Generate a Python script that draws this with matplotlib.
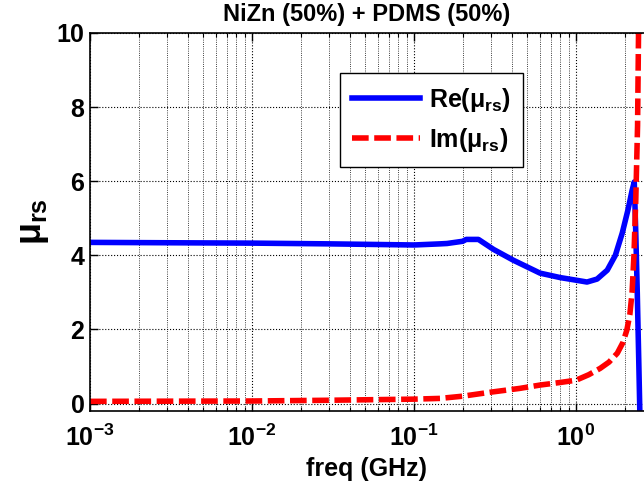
import matplotlib
matplotlib.use("Agg")
import matplotlib.pyplot as plt
from matplotlib.ticker import LogLocator, NullFormatter

# Data (freq in GHz)
freq_re = [1e-3, 3e-3, 1e-2, 3e-2, 0.1, 0.145, 0.16, 0.2, 0.21, 0.25, 0.31, 0.41, 0.6,
           0.8, 1.0, 1.17, 1.35, 1.56, 1.75, 1.93, 2.1, 2.22, 2.29, 2.34, 2.39, 2.44, 2.5]
re_vals = [4.35, 4.34, 4.33, 4.31, 4.28, 4.31, 4.32, 4.38, 4.43, 4.43, 4.16, 3.87, 3.52,
           3.40, 3.33, 3.28, 3.36, 3.60, 4.00, 4.60, 5.25, 5.75, 5.98, 4.6, 3.0, 1.2, -1.0]

freq_im = [1e-3, 1e-2, 3e-2, 0.1, 0.145, 0.2, 0.3, 0.45, 0.6, 0.8, 1.0, 1.2, 1.41,
           1.6, 1.8, 1.95, 2.06, 2.15, 2.22, 2.28, 2.34, 2.4, 2.44, 2.5]
im_vals = [0.06, 0.07, 0.09, 0.12, 0.14, 0.20, 0.31, 0.41, 0.50, 0.57, 0.63, 0.78, 0.95,
           1.12, 1.36, 1.65, 1.98, 2.4, 3.0, 4.0, 5.5, 7.5, 10.5, 20.0]

plt.rcParams['font.family'] = 'Liberation Sans'
plt.rcParams['font.weight'] = 'bold'
plt.rcParams['mathtext.fontset'] = 'custom'
plt.rcParams['mathtext.rm'] = 'Liberation Sans:bold'
plt.rcParams['mathtext.it'] = 'Liberation Sans:bold'
plt.rcParams['mathtext.bf'] = 'Liberation Sans:bold'

fig = plt.figure(figsize=(6.44, 4.84), dpi=100)
ax = fig.add_axes([90 / 644, 1 - 411 / 484, 1 - 90 / 644, (411 - 33) / 484])

ax.plot(freq_re, re_vals, color='blue', lw=4, label=r'Re($\mu_{rs}$)')
ax.plot(freq_im, im_vals, color='red', lw=4, dashes=(3, 1), label=r'Im($\mu_{rs}$)')

ax.set_xscale('log')
ax.set_xlim(1e-3, 2.63)
ax.set_ylim(-0.2, 10)
ax.set_yticks([0, 2, 4, 6, 8, 10])
ax.xaxis.set_major_locator(LogLocator(base=10, numticks=10))
ax.xaxis.set_minor_locator(LogLocator(base=10, subs=range(2, 10), numticks=50))
ax.xaxis.set_minor_formatter(NullFormatter())

ax.grid(True, which='major', color='black', linestyle=':', linewidth=0.8)
ax.grid(True, which='minor', axis='x', color='black', linestyle=':', linewidth=0.6)

ax.tick_params(which='both', direction='in', top=True, right=False, labelsize=18)
ax.tick_params(which='major', length=6, width=1)
ax.tick_params(which='minor', length=3, width=0.8)
ax.tick_params(axis='x', pad=10)
ax.tick_params(axis='y', pad=4)
ax.spines['right'].set_visible(False)
for s in ['left', 'bottom', 'top']:
    ax.spines[s].set_linewidth(1.2)

ax.set_xlabel('freq (GHz)', fontsize=18, fontweight='bold', labelpad=4)
ax.set_ylabel(r'$\mu_{rs}$', fontsize=26, labelpad=4)
ax.set_title('NiZn (50%) + PDMS (50%)', fontsize=17, fontweight='bold', pad=9)

leg = ax.legend(loc='upper left', bbox_to_anchor=(0.451, 0.894), borderaxespad=0,
                fontsize=18, fancybox=False, framealpha=1, edgecolor='black',
                handlelength=2.7, handletextpad=0.35, borderpad=0.5, labelspacing=0.5)
leg.get_frame().set_linewidth(1.0)

fig.savefig('out.png', dpi=100)
